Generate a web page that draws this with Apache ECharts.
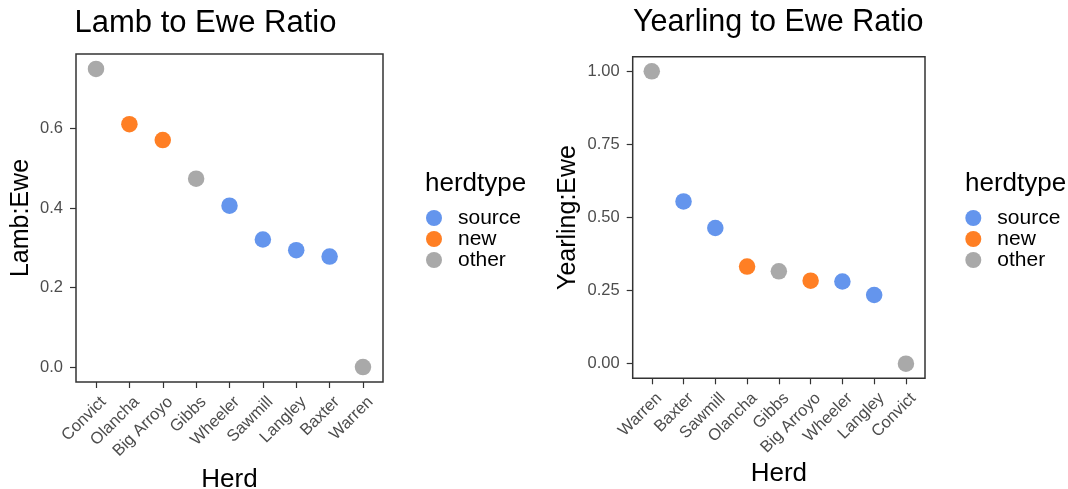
<!DOCTYPE html>
<html>
<head>
<meta charset="utf-8">
<script src="https://cdn.jsdelivr.net/npm/echarts@6/dist/echarts.min.js"></script>
<style>
  html, body { margin: 0; padding: 0; background: #ffffff; }
  #chart { width: 1068px; height: 489px; }
</style>
</head>
<body>
<div id="chart"></div>
<script>
// Lamb:Ewe ratio per herd, in plotted order
const lambHerds = ['Convict', 'Olancha', 'Big Arroyo', 'Gibbs', 'Wheeler', 'Sawmill', 'Langley', 'Baxter', 'Warren'];
const lambRatio = [0.75, 0.611, 0.571, 0.474, 0.406, 0.321, 0.294, 0.278, 0.0];
const lambType  = ['other', 'new', 'new', 'other', 'source', 'source', 'source', 'source', 'other'];

// Yearling:Ewe ratio per herd, in plotted order
const yearlingHerds = ['Warren', 'Baxter', 'Sawmill', 'Olancha', 'Gibbs', 'Big Arroyo', 'Wheeler', 'Langley', 'Convict'];
const yearlingRatio = [1.0, 0.555, 0.464, 0.332, 0.316, 0.284, 0.281, 0.235, 0.0];
const yearlingType  = ['other', 'source', 'source', 'new', 'other', 'new', 'source', 'source', 'other'];

const herdTypes  = ['source', 'new', 'other'];
const typeColors = ['#6495ED', '#FF7F24', '#A9A9A9'];

const lambTicks     = [0, 0.2, 0.4, 0.6];
const yearlingTicks = [0, 0.25, 0.5, 0.75, 1.0];

const FONT = "'Liberation Sans', Arial, sans-serif";
const INK = '#333333';
const TICK_TEXT = '#4D4D4D';

const chart = echarts.init(document.getElementById('chart'), null, { renderer: 'canvas' });

// one scatter series per herd type and panel, so the legend can key on type
function panelSeries(panel, herds, ratios, types) {
  return herdTypes.map((t, k) => ({
    name: t,
    type: 'scatter',
    xAxisIndex: panel,
    yAxisIndex: panel,
    symbol: 'circle',
    symbolSize: 16.5,
    itemStyle: { color: typeColors[k], opacity: 1 },
    emphasis: { disabled: true },
    data: herds.map((h, i) => [i, ratios[i], h]).filter((d, i) => types[i] === t)
  }));
}

function herdAxis(panel, herds, nameGap) {
  const idx = herds.map((h, i) => i);
  return {
    type: 'value',
    gridIndex: panel,
    position: 'bottom',
    min: -0.6,
    max: herds.length - 1 + 0.6,
    name: 'Herd',
    nameLocation: 'middle',
    nameGap: nameGap,
    nameMoveOverlap: false,
    nameTextStyle: { fontFamily: FONT, fontSize: 26, color: '#000', lineHeight: 26 },
    axisLine: { show: false, onZero: false },
    splitLine: { show: false },
    axisTick: { show: true, interval: 0, length: 6, customValues: idx, lineStyle: { color: INK, width: 1.2 } },
    axisLabel: {
      customValues: idx,
      interval: 0,
      showMinLabel: true,
      showMaxLabel: true,
      hideOverlap: false,
      rotate: 45,
      margin: 10,
      // top-aligned line box hangs each slanted name just below its tick
      verticalAlign: 'top',
      lineHeight: 21,
      fontFamily: FONT,
      fontSize: 16.5,
      color: TICK_TEXT,
      formatter: v => herds[Math.round(v)]
    }
  };
}

function ratioAxis(panel, name, min, max, ticks, digits, nameGap) {
  return {
    type: 'value',
    gridIndex: panel,
    position: 'left',
    min: min,
    max: max,
    name: name,
    nameLocation: 'middle',
    nameRotate: 90,
    nameGap: nameGap,
    nameMoveOverlap: false,
    nameTextStyle: { fontFamily: FONT, fontSize: 25, color: '#000', lineHeight: 25 },
    axisLine: { show: false, onZero: false },
    splitLine: { show: false },
    axisTick: { show: true, length: 6, customValues: ticks, lineStyle: { color: INK, width: 1.2 } },
    axisLabel: {
      customValues: ticks,
      showMinLabel: true,
      showMaxLabel: true,
      margin: 13,
      fontFamily: FONT,
      fontSize: 16.5,
      color: TICK_TEXT,
      formatter: v => Number(v).toFixed(digits)
    }
  };
}

function legendFor(left) {
  return {
    orient: 'vertical',
    left: left,
    top: 207.5,
    padding: 0,
    itemWidth: 16,
    itemHeight: 16,
    itemGap: 0,
    icon: 'circle',
    selectedMode: false,
    data: herdTypes,
    textStyle: { fontFamily: FONT, fontSize: 21, color: '#000', lineHeight: 16, padding: [0, 0, 0, 11] }
  };
}

const legendTitleStyle = { fontFamily: FONT, fontSize: 26, fontWeight: 'normal', color: '#000', lineHeight: 26 };

function titleStyle(size) {
  return { fontFamily: FONT, fontSize: size, fontWeight: 'normal', color: '#000', lineHeight: 30 };
}

const gridBase = {
  show: true,
  borderColor: INK,
  borderWidth: 1.5,
  backgroundColor: 'transparent',
  containLabel: false,
  outerBoundsMode: 'none'
};

chart.setOption({
  backgroundColor: '#ffffff',
  animation: false,
  title: [
    { text: 'Lamb to Ewe Ratio', left: 74.5, top: 8, padding: 0, textStyle: titleStyle(31) },
    { text: 'Yearling to Ewe Ratio', left: 633, top: 8, padding: 0, textStyle: titleStyle(30.5) },
    { text: 'herdtype', left: 425, top: 171, padding: 0, textStyle: legendTitleStyle },
    { text: 'herdtype', left: 965, top: 171, padding: 0, textStyle: legendTitleStyle }
  ],
  legend: [legendFor(426), legendFor(965.3)],
  grid: [
    Object.assign({ left: 76, top: 54, width: 307, height: 328 }, gridBase),
    Object.assign({ left: 632.7, top: 56.7, width: 292.3, height: 321.6 }, gridBase)
  ],
  xAxis: [
    herdAxis(0, lambHerds, 85),
    herdAxis(1, yearlingHerds, 83)
  ],
  yAxis: [
    ratioAxis(0, 'Lamb:Ewe', -0.0375, 0.7875, lambTicks, 1, 42),
    ratioAxis(1, 'Yearling:Ewe', -0.05, 1.05, yearlingTicks, 2, 52)
  ],
  series: [
    ...panelSeries(0, lambHerds, lambRatio, lambType),
    ...panelSeries(1, yearlingHerds, yearlingRatio, yearlingType)
  ]
});
</script>
</body>
</html>
